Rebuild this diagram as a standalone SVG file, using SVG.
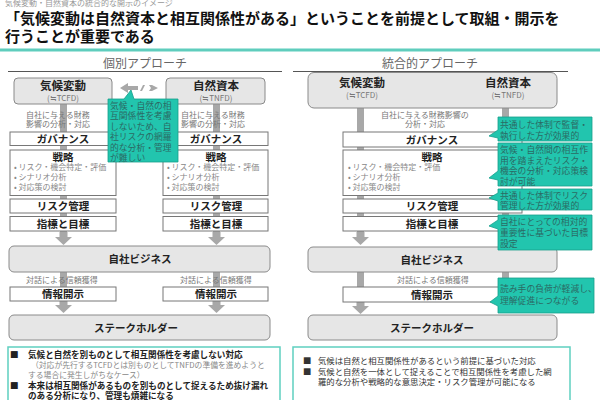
<svg xmlns="http://www.w3.org/2000/svg" width="600" height="400" viewBox="0 0 600 400">
<style>
text{font-family:"Noto Sans CJK JP","Noto Sans",sans-serif}
.t{fill:#111;font-weight:bold}
.h{fill:#666;font-size:12px}
.gb{fill:#e6e6e6;stroke:#8a8a8a;stroke-width:1}
.wb{fill:#fff;stroke:#777;stroke-width:1}
.bar{fill:#a8a8a8}
.b{font-size:10.5px;font-weight:bold;fill:#222;text-anchor:middle}
.n{font-size:11.5px;font-weight:bold;fill:#222;text-anchor:middle}
.s{font-size:8px;fill:#777;text-anchor:middle}
.g{font-size:8px;fill:#888}
.c{fill:#22c5ae;stroke:#17a08c;stroke-width:0.8}
.ct{font-size:8.8px;fill:#2b6a64}
.tb{fill:#fff;stroke:#5fd0c0;stroke-width:1.5}
.bl{font-size:8.6px;fill:#222;font-weight:bold}
.bg{font-size:7.8px;fill:#888}
.br{font-size:8.4px;fill:#333}
</style>
<rect width="600" height="400" fill="#fff"/>
<text x="5" y="6" style="font-size:8px;fill:#999">気候変動・自然資本の統合的な開示のイメージ</text>
<text class="t" x="5" y="24" style="font-size:15px">「気候変動は自然資本と相互関係性がある」ということを前提として取組・開示を</text>
<text class="t" x="5" y="42" style="font-size:15px">行うことが重要である</text>
<rect x="0" y="48.5" width="600" height="3" fill="#5fcdbd"/>
<text class="h" x="145" y="68" text-anchor="middle">個別アプローチ</text>
<line x1="8" y1="71.5" x2="282" y2="71.5" stroke="#555" stroke-width="1"/>
<text class="h" x="430" y="68" text-anchor="middle">統合的アプローチ</text>
<line x1="293" y1="71.5" x2="568" y2="71.5" stroke="#555" stroke-width="1"/>

<g id="connectors">
<rect class="bar" x="60" y="104" width="7" height="128"/>
<rect class="bar" x="213" y="104" width="7" height="128"/>
<polygon class="bar" points="59.5,232 67.5,232 67.5,237 72,237 63.5,245 55,237 59.5,237"/>
<polygon class="bar" points="212.5,232 220.5,232 220.5,237 225,237 216.5,245 208,237 212.5,237"/>
<rect class="bar" x="60" y="272" width="7" height="15"/>
<rect class="bar" x="213" y="272" width="7" height="15"/>
<polygon class="bar" points="59.5,301 67.5,301 67.5,305 72,305 63.5,313 55,305 59.5,305"/>
<polygon class="bar" points="212.5,301 220.5,301 220.5,305 225,305 216.5,313 208,305 212.5,305"/>
<polygon class="bar" points="120,88 128,83 128,86 138,86 138,90 128,90 128,93"/>
<polygon class="bar" points="140,91 143,85 145,85 142,91"/>
<polygon class="bar" points="149,85 152,85 158,88 152,91 149,91 151,88"/>
<rect class="bar" x="357" y="108" width="7" height="124"/>
<rect class="bar" x="502" y="108" width="7" height="124"/>
<polygon class="bar" points="356.5,232 364.5,232 364.5,237 369,237 360.5,245 352,237 356.5,237"/>
<rect class="bar" x="357" y="272" width="7" height="15"/>
<rect class="bar" x="502" y="272" width="7" height="15"/>
<polygon class="bar" points="356.5,302 364.5,302 364.5,306 369,306 360.5,314 352,306 356.5,306"/>
<polygon class="bar" points="415,85.5 424,80 424,83.5 444,83.5 444,80 453,85.5 444,91 444,87.5 424,87.5 424,91"/>
</g>

<g id="left-climate"><rect class="gb" x="14" y="78" width="98" height="26" rx="4"/><text class="n" x="63" y="90">気候変動</text><text class="s" x="63" y="101">(≒TCFD)</text></g>
<g id="left-nature"><rect class="gb" x="166" y="78" width="99" height="26" rx="4"/><text class="n" x="216" y="90">自然資本</text><text class="s" x="216" y="101">(≒TNFD)</text></g>
<g id="left-impact"><text class="s" x="58" y="117.5">自社に与える財務</text><text class="s" x="58" y="127">影響の分析・対応</text></g>
<g id="right-impact-l"><text class="s" x="213" y="117.5">自社に与える財務</text><text class="s" x="213" y="127">影響の分析・対応</text></g>
<g id="left-gov"><rect class="wb" x="10" y="132" width="106" height="13.5"/><text class="b" x="63" y="142.5">ガバナンス</text></g>
<g id="left-gov2"><rect class="wb" x="163" y="132" width="105" height="13.5"/><text class="b" x="216" y="142.5">ガバナンス</text></g>
<g id="left-strat"><rect class="wb" x="10" y="150" width="106" height="45.5"/><text class="b" x="63" y="160.5">戦略</text>
<text class="g" x="14" y="170">•  リスク・機会特定・評価</text><text class="g" x="14" y="180">•  シナリオ分析</text><text class="g" x="14" y="190">•  対応策の検討</text></g>
<g id="left-strat2"><rect class="wb" x="163" y="150" width="105" height="45.5"/><text class="b" x="216" y="160.5">戦略</text>
<text class="g" x="167" y="170">•  リスク・機会特定・評価</text><text class="g" x="167" y="180">•  シナリオ分析</text><text class="g" x="167" y="190">•  対応策の検討</text></g>
<g id="left-risk"><rect class="wb" x="10" y="199" width="106" height="14"/><text class="b" x="63" y="210">リスク管理</text></g>
<g id="left-risk2"><rect class="wb" x="163" y="199" width="105" height="14"/><text class="b" x="216" y="210">リスク管理</text></g>
<g id="left-kpi"><rect class="wb" x="10" y="216.5" width="106" height="14.5"/><text class="b" x="63" y="227.5">指標と目標</text></g>
<g id="left-kpi2"><rect class="wb" x="163" y="216.5" width="105" height="14.5"/><text class="b" x="216" y="227.5">指標と目標</text></g>
<g id="left-biz"><rect class="gb" x="9" y="246" width="261" height="26" rx="5"/><text class="b" x="140" y="263">自社ビジネス</text></g>
<g id="left-dialog"><text class="s" x="62" y="283">対話による信頼獲得</text><text class="s" x="216" y="283">対話による信頼獲得</text></g>
<g id="left-disc"><rect class="wb" x="10" y="287" width="106" height="14"/><text class="b" x="63" y="298">情報開示</text></g>
<g id="left-disc2"><rect class="wb" x="163" y="287" width="105" height="14"/><text class="b" x="216" y="298">情報開示</text></g>
<g id="left-stake"><rect class="gb" x="9" y="315" width="261" height="25" rx="5"/><text class="b" x="136" y="331.5">ステークホルダー</text></g>
<g id="left-callout"><path class="c" d="M108,99 H124 L131,90 L134,99 H178 V162 H108 Z"/>
<text class="ct" x="110" y="108.5">気候・自然の相</text><text class="ct" x="110" y="119">互関係性を考慮</text><text class="ct" x="110" y="129.5">しないため、自</text><text class="ct" x="110" y="140">社リスクの網羅</text><text class="ct" x="110" y="150.5">的な分析・管理</text><text class="ct" x="110" y="161">が難しい</text></g>
<g id="left-summary"><rect class="tb" x="8" y="347" width="272" height="60"/>
<text class="bl" x="10" y="357.5">■</text><text class="bl" x="28" y="357.5">気候と自然を別ものとして相互関係性を考慮しない対応</text>
<text class="bg" x="31" y="368">（対応が先行するTCFDとは別ものとしてTNFDの準備を進めようと</text>
<text class="bg" x="28" y="378">する場合に発生しがちなケース）</text>
<text class="bl" x="10" y="389">■</text><text class="bl" x="28" y="389">本来は相互関係があるものを別ものとして捉えるため抜け漏れ</text>
<text class="bl" x="28" y="399">のある分析になり、管理も煩雑になる</text></g>

<g id="right-top"><rect class="gb" x="308" y="72.5" width="249" height="35.5" rx="6"/>
<text class="n" x="362" y="87">気候変動</text><text class="s" x="362" y="98">(≒TCFD)</text>
<text class="n" x="508" y="87">自然資本</text><text class="s" x="508" y="98">(≒TNFD)</text></g>
<g id="right-impact"><text class="s" x="425" y="117.5">自社に与える財務影響の</text><text class="s" x="425" y="127">分析・対応</text></g>
<g id="right-gov"><rect class="wb" x="343" y="132" width="179" height="15"/><text class="b" x="432" y="143.5">ガバナンス</text></g>
<g id="right-strat"><rect class="wb" x="343" y="150" width="179" height="45.5"/><text class="b" x="432" y="160.5">戦略</text>
<text class="g" x="348" y="170">•  リスク・機会特定・評価</text><text class="g" x="348" y="180">•  シナリオ分析</text><text class="g" x="348" y="190">•  対応策の検討</text></g>
<g id="right-risk"><rect class="wb" x="343" y="199" width="179" height="14"/><text class="b" x="432" y="210">リスク管理</text></g>
<g id="right-kpi"><rect class="wb" x="343" y="216.5" width="179" height="14.5"/><text class="b" x="432" y="227.5">指標と目標</text></g>
<g id="right-biz"><rect class="gb" x="308" y="247" width="249" height="25" rx="5"/><text class="b" x="432" y="263.5">自社ビジネス</text></g>
<g id="right-dialog"><text class="s" x="433" y="283">対話による信頼獲得</text></g>
<g id="right-disc"><rect class="wb" x="343" y="287" width="179" height="15"/><text class="b" x="432" y="298.5">情報開示</text></g>
<g id="right-stake"><rect class="gb" x="308" y="315" width="249" height="25" rx="5"/><text class="b" x="432" y="331.5">ステークホルダー</text></g>
<g id="right-callout-1"><path class="c" d="M498,117 H592 V141 H498 V138 L489,136 L498,130 Z"/><text class="ct" x="500" y="127.5">共通した体制で監督・</text><text class="ct" x="500" y="138.5">執行した方が効果的</text></g>
<g id="right-callout-2"><path class="c" d="M498,143 H592 V186 H498 V180 L489,178 L498,171 Z"/><text class="ct" x="500" y="153">気候・自然間の相互作</text><text class="ct" x="500" y="163.5">用を踏まえたリスク・</text><text class="ct" x="500" y="174">機会の分析・対応策検</text><text class="ct" x="500" y="184.5">討が可能</text></g>
<g id="right-callout-3"><path class="c" d="M498,189 H592 V210 H498 V201 L489,198 L498,193 Z"/><text class="ct" x="500" y="198.5">共通した体制でリスク</text><text class="ct" x="500" y="209">管理した方が効果的</text></g>
<g id="right-callout-4"><path class="c" d="M498,215 H592 V250 H498 V229 L489,226 L498,220 Z"/><text class="ct" x="500" y="225">自社にとっての相対的</text><text class="ct" x="500" y="236">重要性に基づいた目標</text><text class="ct" x="500" y="247">設定</text></g>
<g id="right-callout-5"><path class="c" d="M498,278 H594 V313 H498 V306 L490,302 L498,296 Z"/><text class="ct" x="500" y="292">読み手の負荷が軽減し、</text><text class="ct" x="500" y="304">理解促進につながる</text></g>
<g id="right-summary"><rect class="tb" x="293" y="347" width="277" height="60"/>
<text class="br" x="303" y="364">■</text><text class="br" x="318" y="364">気候は自然と相互関係性があるという前提に基づいた対応</text>
<text class="br" x="303" y="374.5">■</text><text class="br" x="318" y="374.5">気候と自然を一体として捉えることで相互関係性を考慮した網</text>
<text class="br" x="318" y="385">羅的な分析や戦略的な意思決定・リスク管理が可能になる</text></g>
</svg>
